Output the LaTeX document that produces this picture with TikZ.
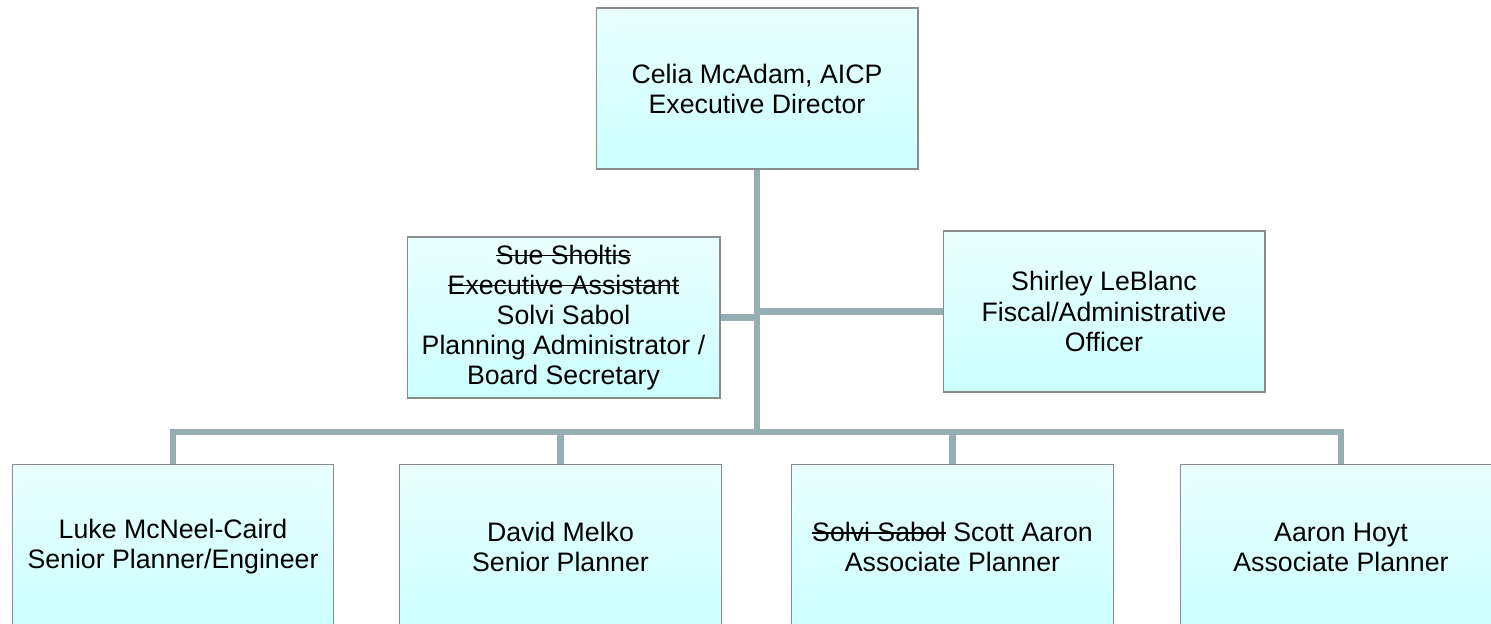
\documentclass[tikz,border=0pt]{standalone}
\usepackage{fontspec}
\setmainfont{Liberation Sans}
\usepackage{tikz}
\usetikzlibrary{positioning, shapes}
\definecolor{boxtop}{RGB}{234,255,255}
\definecolor{boxbottom}{RGB}{204,255,255}
\definecolor{boxedge}{RGB}{135,140,140}
\definecolor{linkgray}{RGB}{148,174,178}
\newsavebox{\crossbox}
\newcommand{\crossout}[1]{\sbox{\crossbox}{#1}\rlap{\rule[0.3em]{\wd\crossbox}{0.06em}}\usebox{\crossbox}}
\tikzstyle{person} = [rectangle, minimum width=6.44cm, minimum height=3.22cm, inner sep=0pt, text centered, align=center, draw=boxedge, line width=0.6pt, top color=boxtop, bottom color=boxbottom, font=\fontsize{15.2}{17.1}\selectfont]
\tikzstyle{link} = [draw=linkgray, line width=3.6pt]

\begin{document}
\begin{tikzpicture}[x=0.02cm, y=-0.02cm]
            \useasboundingbox (0,0) rectangle (1491,624);
            \clip (0,0) rectangle (1491,624);
            \coordinate (hub) at (757,432);

            \node (director) [person] at (757,88.5) {Celia McAdam, AICP\\Executive Director};
            \node (assistant) [person, minimum width=6.26cm] at (563.5,317.5) {\crossout{Sue Sholtis}\\\crossout{Executive Assistant}\\Solvi Sabol\\Planning Administrator /\\Board Secretary};
            \node (fiscal) [person] at (1104,311.5) {Shirley LeBlanc\\Fiscal/Administrative\\Officer};
            \node (luke) [person, minimum height=3.3cm] at (173,547) {Luke McNeel-Caird\\Senior Planner/Engineer};
            \node (david) [person, minimum height=3.3cm] at (560.5,547) {David Melko\\Senior Planner};
            \node (scott) [person, minimum height=3.3cm] at (952.5,547) {\crossout{Solvi Sabol} Scott Aaron\\Associate Planner};
            \node (aaron) [person, minimum height=3.3cm] at (1341,547) {Aaron Hoyt\\Associate Planner};

            \draw [link] (director.south) -- (hub);
            \draw [link] (assistant.east) -- (assistant.east -| hub);
            \draw [link] (fiscal.west) -- (fiscal.west -| hub);
            \draw [link] (luke.north) |- (hub) -| (aaron.north);
            \draw [link] (david.north) -- (david.north |- hub);
            \draw [link] (scott.north) -- (scott.north |- hub);

            \end{tikzpicture}
\end{document}
